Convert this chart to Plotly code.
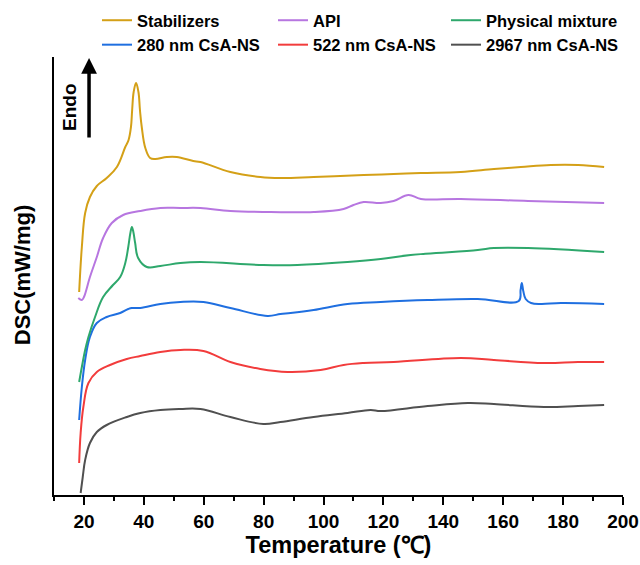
import plotly.graph_objects as go

# ---------------- data (Temperature in °C, heat flow in arbitrary offset units) -------------
stab_T = [18.4, 19.3, 20.4, 22.0, 24.3, 27.6, 31.0, 33.8, 34.9, 35.7, 36.1, 36.6, 37.4, 38.2, 38.7, 39.3, 40.5,
          42.1, 43.8, 47.7, 51.0, 56.5, 58.9, 68.9, 78.9, 85.6, 96.7, 113.4, 123.4, 132.5, 145.8, 156.9, 165.9,
          175.9, 185.0, 193.7]
stab_y = [2.03, 2.48, 2.82, 2.98, 3.09, 3.17, 3.28, 3.48, 3.55, 3.68, 3.85, 4.03, 4.12, 4.03, 3.85, 3.68, 3.47,
          3.37, 3.36, 3.38, 3.38, 3.34, 3.33, 3.23, 3.18, 3.17, 3.18, 3.20, 3.21, 3.22, 3.23, 3.26, 3.28,
          3.30, 3.30, 3.28]

api_T = [18.1, 19.3, 20.0, 22.0, 24.3, 26.4, 29.3, 33.1, 38.8, 45.5, 52.2, 58.9, 68.9, 82.3, 96.7, 106.7,
         110.0, 113.4, 119.1, 123.4, 128.4, 132.5, 145.8, 168.3, 193.7]
api_y = [1.97, 1.95, 1.98, 2.18, 2.38, 2.57, 2.72, 2.80, 2.84, 2.87, 2.87, 2.87, 2.84, 2.83, 2.83, 2.86,
         2.90, 2.93, 2.92, 2.94, 3.00, 2.96, 2.96, 2.94, 2.92]

pm_T = [18.4, 19.3, 20.4, 21.5, 23.7, 26.4, 29.7, 32.1, 33.8, 34.8, 35.5, 36.0, 36.5, 37.1, 38.1, 41.0, 45.5,
        52.2, 58.9, 79.9, 91.3, 108.0, 119.1, 129.1, 151.5, 156.9, 168.3, 193.7]
pm_y = [1.13, 1.28, 1.45, 1.58, 1.78, 1.98, 2.10, 2.18, 2.32, 2.48, 2.62, 2.68, 2.63, 2.52, 2.37, 2.28, 2.29,
        2.32, 2.33, 2.30, 2.30, 2.33, 2.36, 2.40, 2.45, 2.47, 2.47, 2.43]

n280_T = [18.4, 19.3, 20.4, 22.0, 24.3, 27.6, 32.1, 34.8, 36.0, 38.8, 45.5, 52.2, 59.9, 68.9, 81.3, 85.6, 89.0,
          96.7, 108.0, 119.1, 134.8, 151.5, 165.2, 165.8, 166.2, 166.7, 167.5, 169.3, 172.6, 179.3, 193.7]
n280_y = [0.75, 1.08, 1.35, 1.58, 1.72, 1.78, 1.82, 1.86, 1.87, 1.87, 1.91, 1.93, 1.93, 1.87, 1.79, 1.81, 1.82,
          1.85, 1.91, 1.93, 1.95, 1.96, 1.94, 2.05, 2.12, 2.04, 1.96, 1.92, 1.91, 1.92, 1.91]

n522_T = [18.4, 18.9, 19.8, 21.5, 24.3, 28.7, 34.3, 38.8, 45.5, 52.2, 59.9, 68.9, 78.9, 88.0, 99.0, 106.7,
          113.4, 123.4, 145.8, 156.9, 173.6, 185.0, 193.7]
n522_y = [0.32, 0.62, 0.88, 1.12, 1.23, 1.30, 1.36, 1.39, 1.43, 1.45, 1.44, 1.33, 1.26, 1.23, 1.25, 1.30,
          1.32, 1.33, 1.37, 1.35, 1.32, 1.33, 1.33]

n2967_T = [18.9, 19.6, 20.4, 22.0, 24.3, 27.6, 34.3, 38.8, 45.5, 52.2, 58.9, 68.9, 79.9, 85.6, 96.7, 108.0,
           115.7, 119.1, 134.8, 148.2, 156.9, 173.6, 185.0, 193.7]
n2967_y = [0.02, 0.18, 0.35, 0.52, 0.63, 0.70, 0.78, 0.82, 0.85, 0.86, 0.86, 0.78, 0.71, 0.73, 0.78, 0.82,
           0.85, 0.84, 0.89, 0.92, 0.91, 0.88, 0.89, 0.90]

series = [
    ("Stabilizers", stab_T, stab_y, "#D4A017", "legend"),
    ("280 nm CsA-NS", n280_T, n280_y, "#1F6FE0", "legend"),
    ("API", api_T, api_y, "#B776E0", "legend2"),
    ("522 nm CsA-NS", n522_T, n522_y, "#F23C3C", "legend2"),
    ("Physical mixture", pm_T, pm_y, "#2EA86C", "legend3"),
    ("2967 nm CsA-NS", n2967_T, n2967_y, "#505050", "legend3"),
]

FONT = "Liberation Sans, Arial, sans-serif"

fig = go.Figure()
for name, T, y, color, lg in series:
    fig.add_trace(go.Scatter(
        x=T, y=y, name=name, mode="lines", legend=lg,
        line=dict(color=color, width=2, shape="spline", smoothing=1.1),
    ))

leg_common = dict(
    orientation="v", xanchor="left", yanchor="top", yref="container", xref="container",
    font=dict(family=FONT, size=16.5, color="black", weight="bold"),
    bgcolor="rgba(0,0,0,0)", tracegroupgap=0,
)

fig.update_layout(
    width=640, height=565,
    margin=dict(l=54, r=17, t=57, b=70, autoexpand=False),
    paper_bgcolor="white", plot_bgcolor="white",
    font=dict(family=FONT, color="black"),
    legend=dict(x=97 / 640, y=1 - 3 / 565, **leg_common),
    legend2=dict(x=273 / 640, y=1 - 3 / 565, **leg_common),
    legend3=dict(x=446 / 640, y=1 - 3 / 565, **leg_common),
    xaxis=dict(
        range=[10, 200], tickmode="linear", tick0=0, dtick=20, ticks="outside", ticklen=8, tickwidth=1.5,
        tickcolor="black", showline=True, linecolor="black", linewidth=1.5,
        showgrid=False, zeroline=False, automargin=False,
        minor=dict(dtick=10, ticks="outside", ticklen=4, tickwidth=1.5, tickcolor="black", showgrid=False),
        tickfont=dict(family=FONT, size=19, color="black", weight="bold"),
        title=dict(text="Temperature (℃)", font=dict(family=FONT, size=23.5, color="black", weight="bold"),
                   standoff=6),
    ),
    yaxis=dict(
        range=[0, 4.38], showticklabels=False, ticks="", showline=True, linecolor="black",
        linewidth=1.5, showgrid=False, zeroline=False, automargin=False,
    ),
)

# y-axis title
fig.add_annotation(
    x=-0.056, y=0.502, xref="paper", yref="paper", text="DSC(mW/mg)", showarrow=False, textangle=-90,
    xanchor="center", yanchor="middle",
    font=dict(family=FONT, size=22, color="black", weight="bold"),
)

# Endo arrow and label
fig.add_annotation(
    x=21.7, y=4.37, ax=21.7, ay=3.56, xref="x", yref="y", axref="x", ayref="y",
    text="", showarrow=True, arrowhead=2, arrowsize=0.9, arrowwidth=3.5, arrowcolor="black",
)
fig.add_annotation(
    x=15.0, y=3.88, xref="x", yref="y", text="Endo", showarrow=False, textangle=-90,
    font=dict(family=FONT, size=19, color="black", weight="bold"),
)

fig.write_html("out.html")
